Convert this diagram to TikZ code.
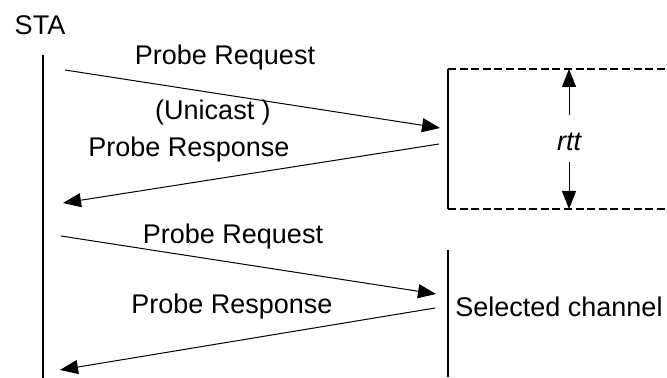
\documentclass[tikz,border=0pt]{standalone}
\usepackage{fontspec}
\setmainfont{Liberation Sans}
\usetikzlibrary{arrows.meta}
\tikzset{
  msg/.style={line width=0.5pt,-{Triangle[length=9pt,width=7pt]}},
  life/.style={line width=1pt},
  edge/.style={line width=1pt,dash pattern=on 4pt off 1.8pt},
  lbl/.style={inner sep=0pt,font=\fontsize{13.5}{16}\selectfont}
}
\begin{document}
\begin{tikzpicture}[x=0.5pt,y=-0.5pt]
            \useasboundingbox (0,0) rectangle (667,378);
            % station and its lifeline
            \node[lbl] (sta) at (40,25) {STA};
            \coordinate (l0) at (43,55); \coordinate (l1) at (43,378);
            \draw[life] (l0)--(l1);
            % first exchange, timed
            \coordinate (a1s) at (65,70);   \coordinate (a1e) at (440,128);
            \coordinate (a2s) at (439,144); \coordinate (a2e) at (63,203);
            \draw[msg] (a1s)--(a1e);
            \draw[msg] (a2s)--(a2e);
            \node[lbl] (req1) at (225,58) {Probe Request};
            \node[lbl] (uni) at (213,113) {(Unicast )};
            \node[lbl] (resp1) at (189,150) {Probe Response};
            % rtt box
            \coordinate (bt) at (448,69); \coordinate (bb) at (448,209);
            \coordinate (rt) at (667,69); \coordinate (rb) at (667,209);
            \draw[life] (bt)--(bb);
            \draw[edge] (bt)--(rt) (bb)--(rb);
            \node[lbl,font=\fontsize{13.5}{16}\selectfont\itshape] (rtt) at (569,142) {rtt};
            \coordinate (rtop) at (569,69); \coordinate (rbot) at (569,209);
            \draw[msg] (569,115)--(rtop);
            \draw[msg] (569,162)--(rbot);
            % second exchange
            \coordinate (a3s) at (61,236);  \coordinate (a3e) at (436,294);
            \coordinate (a4s) at (435,308); \coordinate (a4e) at (60,370);
            \draw[msg] (a3s)--(a3e);
            \draw[msg] (a4s)--(a4e);
            \node[lbl] (req2) at (233,237) {Probe Request};
            \node[lbl] (resp2) at (232,307) {Probe Response};
            % selected channel
            \coordinate (c0) at (448,250); \coordinate (c1) at (448,377);
            \draw[life] (c0)--(c1);
            \node[lbl,anchor=west] (sel) at (455,307) {Selected channel};
        \end{tikzpicture}
\end{document}
